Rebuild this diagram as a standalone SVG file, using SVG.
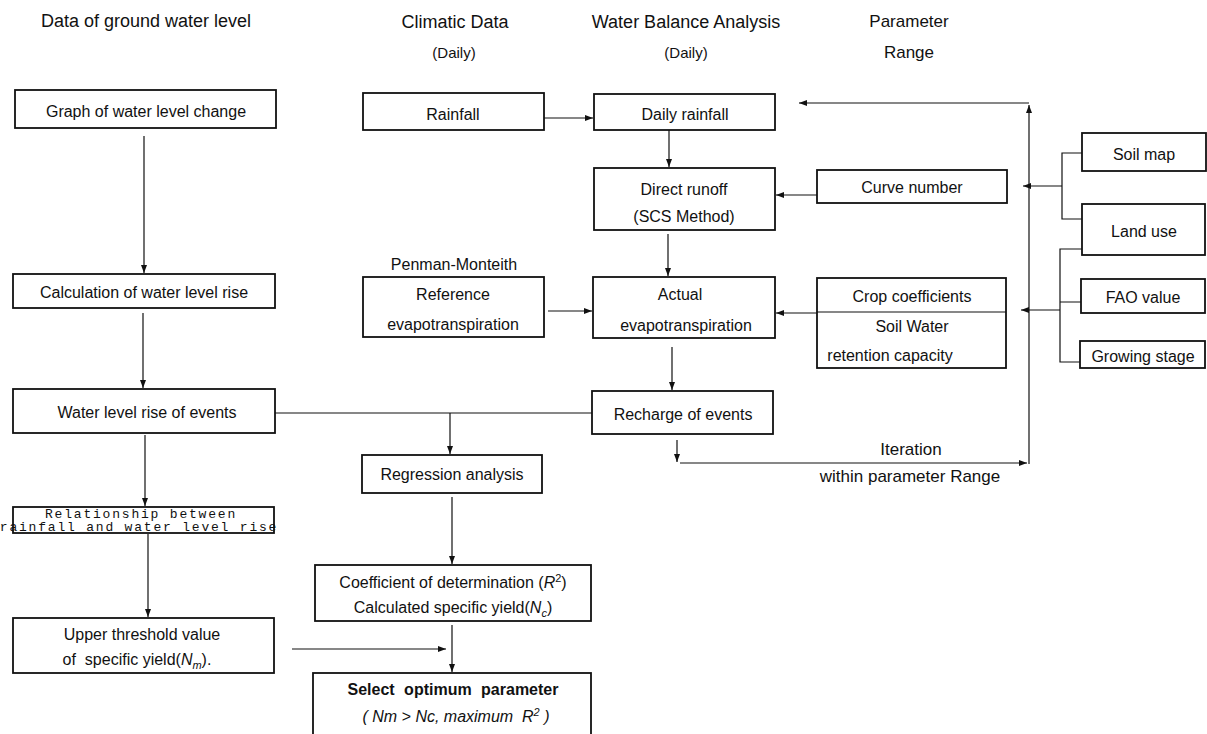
<svg xmlns="http://www.w3.org/2000/svg" width="1207" height="734" viewBox="0 0 1207 734">
<style>
.b{fill:#fff;stroke:#111;stroke-width:1.8}
.t{font-family:"Liberation Sans",Arial,sans-serif;font-size:16px;fill:#111;text-anchor:middle}
.h{font-family:"Liberation Sans",Arial,sans-serif;font-size:18px;fill:#111;text-anchor:middle}
.p{font-family:"Liberation Sans",Arial,sans-serif;font-size:17px;fill:#111;text-anchor:middle}
.s{font-family:"Liberation Sans",Arial,sans-serif;font-size:15px;fill:#111;text-anchor:middle}
.m{font-family:"Liberation Mono","DejaVu Sans Mono",monospace;font-size:13px;letter-spacing:1.8px;fill:#111;text-anchor:middle}
.c{fill:none;stroke:#111;stroke-width:1.2}
.i{font-style:italic}
</style>
<defs>
<marker id="a" markerUnits="userSpaceOnUse" markerWidth="8" markerHeight="6" refX="8" refY="3" orient="auto">
<path d="M0,0 L8,3 L0,6 z" fill="#111"/>
</marker>
</defs>
<rect width="1207" height="734" fill="#fff"/>
<g id="headers">
<text class="h" x="146" y="27">Data of ground water level</text>
<text class="h" x="455" y="28">Climatic Data</text>
<text class="s" x="454" y="58">(Daily)</text>
<text class="h" x="686" y="28">Water Balance Analysis</text>
<text class="s" x="686" y="58">(Daily)</text>
<text class="p" x="909" y="27">Parameter</text>
<text class="p" x="909" y="58">Range</text>
</g>
<g id="connectors">
<path class="c" d="M144,136 V273" marker-end="url(#a)"/>
<path class="c" d="M143,313 V388" marker-end="url(#a)"/>
<path class="c" d="M145,435 V506" marker-end="url(#a)"/>
<path class="c" d="M148,534 V617" marker-end="url(#a)"/>
<path class="c" d="M292,649 H446" marker-end="url(#a)"/>
<path class="c" d="M275,413 H592"/>
<path class="c" d="M450,413 V454" marker-end="url(#a)"/>
<path class="c" d="M452,497 V564" marker-end="url(#a)"/>
<path class="c" d="M452,625 V672" marker-end="url(#a)"/>
<path class="c" d="M544,118 H593" marker-end="url(#a)"/>
<path class="c" d="M669,130 V167" marker-end="url(#a)"/>
<path class="c" d="M668,234 V276" marker-end="url(#a)"/>
<path class="c" d="M548,311 H592" marker-end="url(#a)"/>
<path class="c" d="M672,347 V390" marker-end="url(#a)"/>
<path class="c" d="M817,195 H776" marker-end="url(#a)"/>
<path class="c" d="M817,313 H776" marker-end="url(#a)"/>
<path class="c" d="M677,440 V462" marker-end="url(#a)"/>
<path class="c" d="M680,463 H1027" marker-end="url(#a)"/>
<path class="c" d="M1029,464 V105" marker-end="url(#a)"/>
<path class="c" d="M1029,103 H799" marker-end="url(#a)"/>
<path class="c" d="M1082,153 H1062 V219 H1082"/>
<path class="c" d="M1062,186 H1023" marker-end="url(#a)"/>
<path class="c" d="M1082,249 H1060 V362 H1081 M1060,302 H1081"/>
<path class="c" d="M1060,310 H1021" marker-end="url(#a)"/>
</g>
<g id="graph"><rect class="b" x="15" y="90" width="261" height="38"/><text class="t" x="146" y="117">Graph of water level change</text></g>
<g id="calc"><rect class="b" x="13" y="274" width="262" height="34"/><text class="t" x="144" y="298">Calculation of water level rise</text></g>
<g id="wlr"><rect class="b" x="13" y="389" width="262" height="44"/><text class="t" x="147" y="418">Water level rise of events</text></g>
<g id="rel"><rect class="b" x="13" y="507" width="261" height="26"/><text class="m" x="141" y="517.5">Relationship between</text><text class="m" x="139" y="531">rainfall and water level rise</text></g>
<g id="upper"><rect class="b" x="13" y="618" width="261" height="55"/><text class="t" x="142" y="640">Upper threshold value</text><text class="t" x="137" y="665" xml:space="preserve">of  specific yield(<tspan class="i">N</tspan><tspan class="i" font-size="11" dy="4">m</tspan><tspan dy="-4">).</tspan></text></g>
<g id="rainfall"><rect class="b" x="363" y="93" width="181" height="37"/><text class="t" x="453" y="120">Rainfall</text></g>
<g id="daily"><rect class="b" x="594" y="94" width="181" height="36"/><text class="t" x="685" y="120">Daily rainfall</text></g>
<g id="direct"><rect class="b" x="594" y="168" width="181" height="62"/><text class="t" x="684" y="195">Direct runoff</text><text class="t" x="684" y="222">(SCS Method)</text></g>
<g id="reference"><text class="t" x="454" y="270">Penman-Monteith</text><rect class="b" x="363" y="277" width="181" height="60"/><text class="t" x="453" y="300">Reference</text><text class="t" x="453" y="330">evapotranspiration</text></g>
<g id="actual"><rect class="b" x="593" y="277" width="182" height="61"/><text class="t" x="680" y="300">Actual</text><text class="t" x="686" y="331">evapotranspiration</text></g>
<g id="recharge"><rect class="b" x="592" y="391" width="181" height="43"/><text class="t" x="683" y="420">Recharge of events</text></g>
<g id="regression"><rect class="b" x="362" y="455" width="180" height="38"/><text class="t" x="452" y="480">Regression analysis</text></g>
<g id="coeff"><rect class="b" x="315" y="565" width="276" height="56"/><text class="t" x="453" y="588">Coefficient of determination (<tspan class="i">R</tspan><tspan font-size="11" dy="-6">2</tspan><tspan dy="6">)</tspan></text><text class="t" x="453" y="613">Calculated specific yield(<tspan class="i">N</tspan><tspan class="i" font-size="11" dy="4">c</tspan><tspan dy="-4">)</tspan></text></g>
<g id="select"><rect class="b" x="313" y="673" width="278" height="70"/><text class="t" x="453" y="695" font-weight="bold" word-spacing="5">Select optimum parameter</text><text class="t i" x="456" y="722" xml:space="preserve">( Nm &gt; Nc, maximum  R<tspan font-size="11" dy="-6">2</tspan><tspan dy="6"> )</tspan></text></g>
<g id="curve"><rect class="b" x="817" y="170" width="190" height="33"/><text class="t" x="912" y="193">Curve number</text></g>
<g id="crop"><rect class="b" x="817" y="278" width="189" height="90"/><path class="c" d="M817,312 H1006" stroke-width="1.5"/><text class="t" x="912" y="302">Crop coefficients</text><text class="t" x="912" y="332">Soil Water</text><text class="t" x="890" y="361">retention capacity</text></g>
<g id="soilmap"><rect class="b" x="1082" y="133" width="124" height="38"/><text class="t" x="1144" y="160">Soil map</text></g>
<g id="landuse"><rect class="b" x="1082" y="204" width="123" height="51"/><text class="t" x="1144" y="237">Land use</text></g>
<g id="fao"><rect class="b" x="1081" y="279" width="124" height="34"/><text class="t" x="1143" y="303">FAO value</text></g>
<g id="growing"><rect class="b" x="1080" y="341" width="125" height="27"/><text class="t" x="1143" y="362">Growing stage</text></g>
<g id="iteration"><text class="p" x="911" y="455">Iteration</text><text class="p" x="910" y="482">within parameter Range</text></g>
</svg>
